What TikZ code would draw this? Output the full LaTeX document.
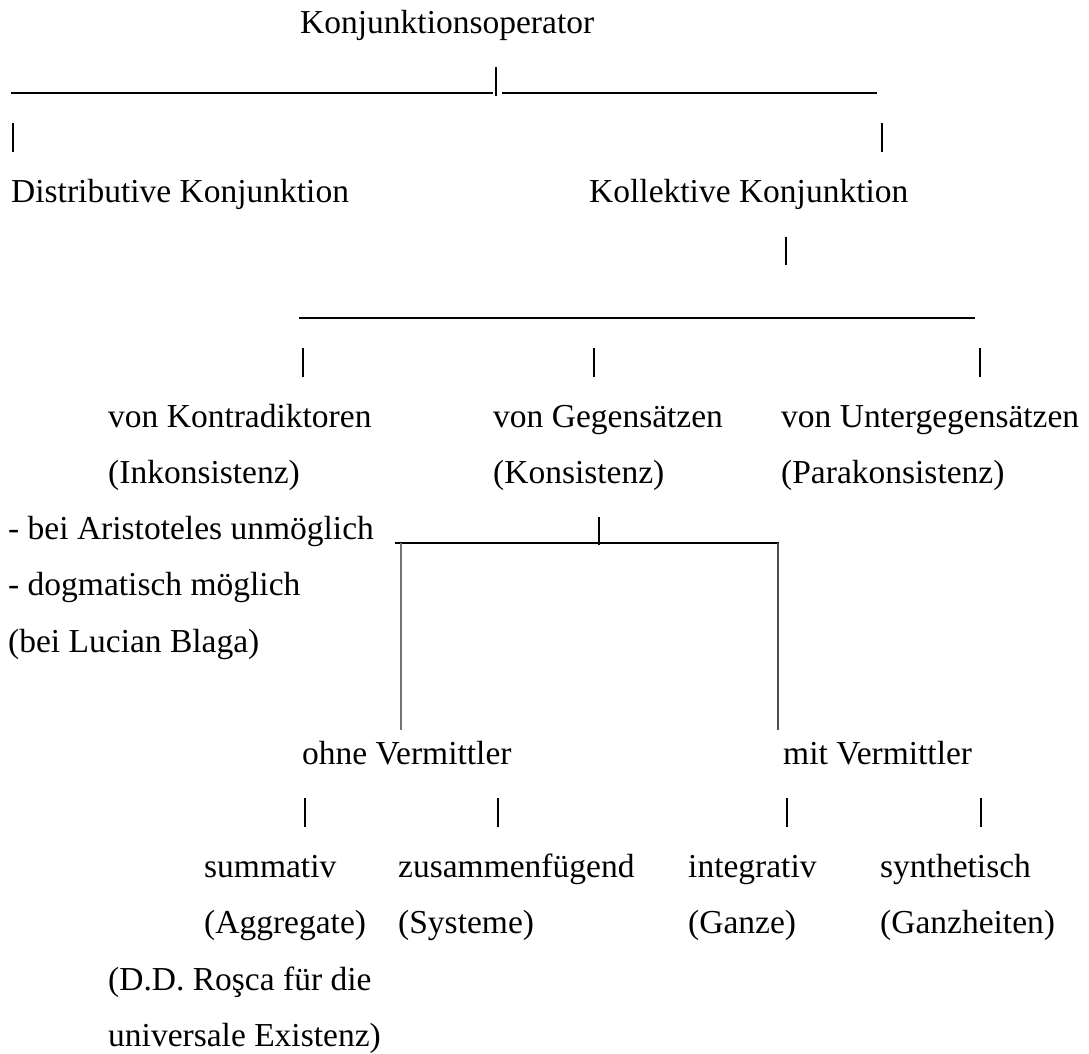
\documentclass[tikz,border=0pt]{standalone}
\usepackage{fontspec}
\setmainfont{Liberation Serif}
\begin{document}
\begin{tikzpicture}[x=1pt,y=-1pt,
  lbl/.style={anchor=base west,inner sep=0pt,font=\fontsize{33.5}{40}\selectfont},
  hline/.style={line width=2pt,black},
  tick/.style={line width=1.6pt,black},
  greyline/.style={line width=1.3pt,black!55}]
\useasboundingbox[fill=white] (0,0) rectangle (1089,1053);
% texts
\node[lbl] (top) at (300,33) {Konjunktionsoperator};
\node[lbl] (dist) at (11,202) {Distributive Konjunktion};
\node[lbl] (koll) at (589,202) {Kollektive Konjunktion};
\node[lbl] (kontra) at (108,427) {von Kontradiktoren};
\node[lbl] (inkons) at (108,483) {(Inkonsistenz)};
\node[lbl] (gegen) at (493,427) {von Gegensätzen};
\node[lbl] (kons) at (493,483) {(Konsistenz)};
\node[lbl] (unter) at (781,427) {von Untergegensätzen};
\node[lbl] (para) at (781,483) {(Parakonsistenz)};
\node[lbl] (ari) at (8,539) {- bei Aristoteles unmöglich};
\node[lbl] (dogm) at (8,595.5) {- dogmatisch möglich};
\node[lbl] (blaga) at (8,652) {(bei Lucian Blaga)};
\node[lbl] (ohne) at (302,764) {ohne Vermittler};
\node[lbl] (mit) at (783,764) {mit Vermittler};
\node[lbl] (summ) at (204,877) {summativ};
\node[lbl] (zus) at (398,877) {zusammenfügend};
\node[lbl] (integ) at (688,877) {integrativ};
\node[lbl] (synth) at (880,877) {synthetisch};
\node[lbl] (aggr) at (204,933) {(Aggregate)};
\node[lbl] (syst) at (398,933) {(Systeme)};
\node[lbl] (ganze) at (688,933) {(Ganze)};
\node[lbl] (ganzh) at (880,933) {(Ganzheiten)};
\node[lbl] (rosA) at (108,990) {(D.D. Roşca für die};
\node[lbl] (rosB) at (108,1046) {universale Existenz)};
% coordinates
\coordinate (a1) at (11,93);   \coordinate (a2) at (493,93);
\coordinate (a3) at (502,93);  \coordinate (a4) at (877,93);
\coordinate (t0a) at (496,67); \coordinate (t0b) at (496,96);
\coordinate (t1a) at (13,123); \coordinate (t1b) at (13,152);
\coordinate (t2a) at (882,123); \coordinate (t2b) at (882,152);
\coordinate (t3a) at (786,237); \coordinate (t3b) at (786,265);
\coordinate (b1) at (299,318); \coordinate (b2) at (975,318);
\coordinate (t4a) at (303,348); \coordinate (t4b) at (303,377);
\coordinate (t5a) at (594,348); \coordinate (t5b) at (594,377);
\coordinate (t6a) at (980,348); \coordinate (t6b) at (980,377);
\coordinate (t7a) at (599,517); \coordinate (t7b) at (599,545);
\coordinate (c1) at (395,543); \coordinate (c2) at (779,543);
\coordinate (g1a) at (401,543); \coordinate (g1b) at (401,730);
\coordinate (g2a) at (778,543); \coordinate (g2b) at (778,730);
\coordinate (t8a) at (305,798); \coordinate (t8b) at (305,827);
\coordinate (t9a) at (498,798); \coordinate (t9b) at (498,827);
\coordinate (t10a) at (787,798); \coordinate (t10b) at (787,827);
\coordinate (t11a) at (981,798); \coordinate (t11b) at (981,827);
% lines
\draw[hline] (a1) -- (a2);
\draw[hline] (a3) -- (a4);
\draw[hline] (b1) -- (b2);
\draw[hline] (c1) -- (c2);
\foreach \t in {t0,t1,t2,t3,t4,t5,t6,t7,t8,t9,t10,t11}
  \draw[tick] (\t a) -- (\t b);
\draw[greyline] (g1a) -- (g1b);
\draw[greyline,black!70] (g2a) -- (g2b);
\end{tikzpicture}
\end{document}
